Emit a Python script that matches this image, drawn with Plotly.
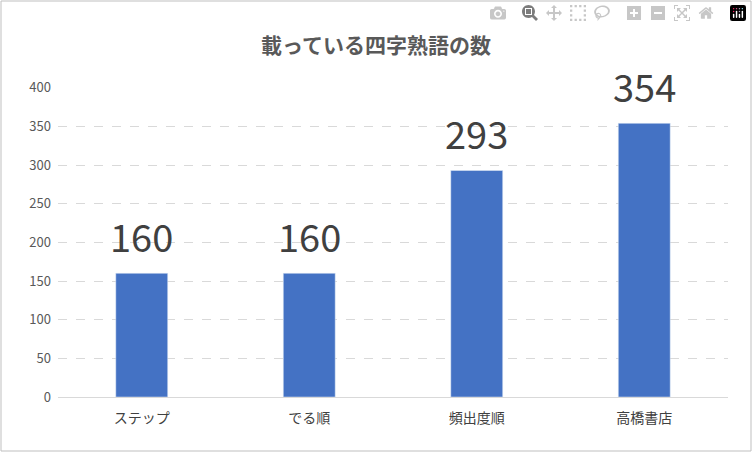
import plotly.graph_objects as go

categories = ["ステップ", "でる順", "頻出度順", "高橋書店"]
counts = [160, 160, 293, 354]

font = "Noto Sans CJK JP"

fig = go.Figure(go.Bar(
    x=categories, y=counts,
    marker_color="#4472c4",
))
for c, v in zip(categories, counts):
    fig.add_annotation(x=c, y=v, text=str(v), showarrow=False, yanchor="bottom", yshift=8,
                       font=dict(size=38, color="#404040", family=font))
fig.update_layout(
    width=752, height=452,
    margin=dict(l=58, r=24, t=87, b=55),
    title=dict(text="<b>載っている四字熟語の数</b>", x=0.5, y=0.915, xanchor="center",
               font=dict(size=21, color="#595959", family=font)),
    plot_bgcolor="white", paper_bgcolor="white",
    bargap=0.69, showlegend=False,
    font=dict(family=font, color="#595959", size=13),
    shapes=[dict(type="rect", xref="paper", yref="paper", x0=-57/670, x1=1+23/670,
                 y0=-54/310, y1=1+86/310, line=dict(color="#bfbfbf", width=1))],
)
fig.update_yaxes(range=[0, 401], tickvals=[0, 50, 100, 150, 200, 250, 300, 350, 400],
                 gridcolor="#d9d9d9", griddash="dash",
                 zeroline=False, tickfont=dict(size=13, color="#595959"), ticklabelstandoff=6)
fig.update_xaxes(showline=True, linecolor="#d9d9d9", ticklabelstandoff=8,
                 tickfont=dict(size=14, color="#404040"))
fig.write_html("out.html", post_script="document.body.style.margin='0';")
